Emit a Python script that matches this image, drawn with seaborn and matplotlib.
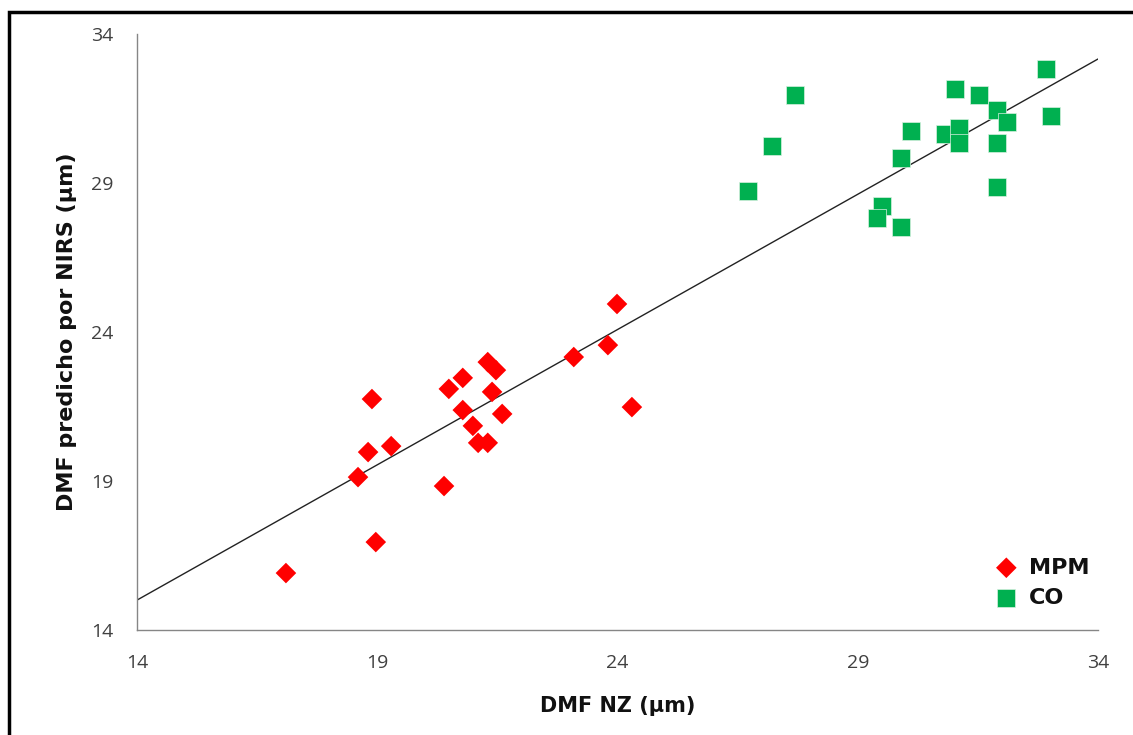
import numpy as np
import pandas as pd
import matplotlib.pyplot as plt
import seaborn as sns
from matplotlib.patches import Rectangle

# --- datos ---
mpm_nz = [17.10, 18.97, 18.60, 18.81, 18.89, 19.29, 20.39, 20.49, 20.78, 20.78, 20.99,
          21.10, 21.30, 21.30, 21.47, 21.39, 21.60, 23.09, 23.80, 23.99, 24.30]
mpm_nirs = [15.91, 16.95, 19.13, 19.97, 21.75, 20.17, 18.83, 22.09, 22.46, 21.38, 20.85,
            20.28, 20.28, 22.99, 22.72, 21.99, 21.25, 23.16, 23.56, 24.94, 21.48]

co_nz = [26.72, 27.22, 27.69, 29.50, 29.40, 29.90, 29.90, 30.11, 30.82, 31.11, 31.11,
         31.02, 31.52, 31.90, 32.11, 31.90, 31.90, 32.92, 33.02]
co_nirs = [28.73, 30.24, 31.95, 28.23, 27.83, 27.52, 29.84, 30.74, 30.64, 30.85, 30.34,
           32.15, 31.95, 31.45, 31.05, 30.34, 28.87, 32.83, 31.25]

# recta de ajuste
pendiente = 0.908
intercepto = 2.29

ticks = [14, 19, 24, 29, 34]

df_mpm = pd.DataFrame({"nz": mpm_nz, "nirs": mpm_nirs})
df_co = pd.DataFrame({"nz": co_nz, "nirs": co_nirs})

sns.set_style("white")
plt.rcParams["font.family"] = ["Open Sans", "DejaVu Sans"]

fig = plt.figure(figsize=(11.33, 7.35), dpi=100)
ax = fig.add_axes([0.1209, 0.1429, 0.8482, 0.8108])

x_linea = np.array([14, 34])
sns.lineplot(x=x_linea, y=pendiente * x_linea + intercepto, ax=ax,
             color="#222222", linewidth=1.0, zorder=1)

sns.scatterplot(data=df_mpm, x="nz", y="nirs", marker="D", s=110, color="#FF0000",
                edgecolor="none", label="MPM", ax=ax, zorder=3)
sns.scatterplot(data=df_co, x="nz", y="nirs", marker="s", s=185, color="#00B050",
                edgecolor="#d8f0e0", linewidth=0.5, label="CO", ax=ax, zorder=3)

ax.set_xlim(14, 34)
ax.set_ylim(14, 34)
ax.set_xticks(ticks)
ax.set_yticks(ticks)
ax.tick_params(axis="both", direction="out", length=5, width=1, color="#868686",
               labelsize=14, labelcolor="#404040", pad=12)

for lado in ["top", "right"]:
    ax.spines[lado].set_visible(False)
for lado in ["left", "bottom"]:
    ax.spines[lado].set_color("#868686")
    ax.spines[lado].set_linewidth(1)

etiqueta = {"family": "DejaVu Sans", "weight": "bold", "size": 15, "color": "#111111"}
ax.set_xlabel("DMF NZ (µm)", fontdict=etiqueta)
ax.set_ylabel("DMF predicho por NIRS (µm)", fontdict={**etiqueta, "size": 16})
ax.xaxis.set_label_coords(0.5, -0.1275)
ax.xaxis.label.set_va("center")
ax.yaxis.set_label_coords(-0.0728, 0.5)
ax.yaxis.label.set_va("center")

leg = ax.legend(loc="lower right", bbox_to_anchor=(1.0115, 0.004), frameon=False,
                prop={"family": "DejaVu Sans", "weight": "bold", "size": 16},
                handlelength=1.0, handletextpad=0.5, labelspacing=0.45,
                markerscale=1.0)
for t in leg.get_texts():
    t.set_color("#111111")

# marco negro alrededor
fig.patches.append(Rectangle((9 / 1133, -0.1), 1.1, (735 - 12) / 735 + 0.1,
                             transform=fig.transFigure, fill=False,
                             edgecolor="black", linewidth=2.5))

plt.savefig("out.png", dpi=100)
